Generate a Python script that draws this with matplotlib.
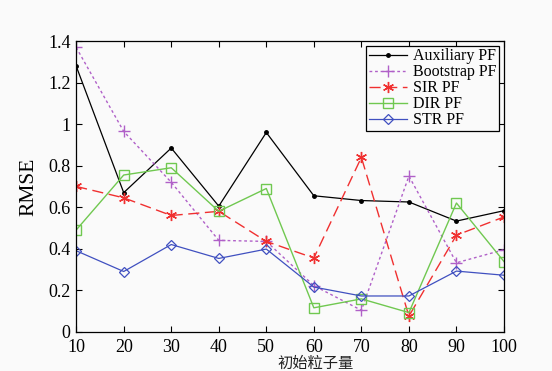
import matplotlib
matplotlib.use("Agg")
import matplotlib.pyplot as plt

# ---------- data ----------
particles = [10, 20, 30, 40, 50, 60, 70, 80, 90, 100]
auxiliary = [1.28, 0.67, 0.885, 0.605, 0.96, 0.655, 0.632, 0.625, 0.533, 0.583]
bootstrap = [1.37, 0.965, 0.72, 0.44, 0.435, 0.222, 0.103, 0.75, 0.332, 0.395]
sir = [0.70, 0.645, 0.56, 0.58, 0.435, 0.355, 0.84, 0.075, 0.465, 0.553]
dir_pf = [0.49, 0.755, 0.79, 0.58, 0.69, 0.115, 0.158, 0.092, 0.62, 0.338]
str_pf = [0.39, 0.29, 0.42, 0.353, 0.398, 0.215, 0.172, 0.172, 0.292, 0.272]

labels = ["Auxiliary PF", "Bootstrap PF", "SIR PF", "DIR PF", "STR PF"]
yticks = [0, 0.2, 0.4, 0.6, 0.8, 1, 1.2, 1.4]
ytick_labels = ["0", "0.2", "0.4", "0.6", "0.8", "1", "1.2", "1.4"]

serif = "Liberation Serif"
bg = "#fafafa"

fig = plt.figure(figsize=(5.52, 3.71), dpi=100, facecolor=bg)
ax = fig.add_axes([0.138, 0.106, 0.775, 0.783])
ax.set_facecolor(bg)

ax.plot(particles, auxiliary, color="black", lw=0.9, marker=".", ms=5, label=labels[0])
ax.plot(particles, bootstrap, color="#b060c8", lw=1.0, ls=(0, (2, 2)), marker="+", ms=8,
        mew=1.0, label=labels[1])
ax.plot(particles, sir, color="#f03030", lw=1.0, ls=(0, (8, 4)), marker=(6, 2, 0), ms=8,
        mew=1.0, label=labels[2])
ax.plot(particles, dir_pf, color="#70c850", lw=1.0, marker="s", ms=7, mfc="none",
        mew=1.0, label=labels[3])
ax.plot(particles, str_pf, color="#4050c0", lw=0.9, marker="D", ms=5.5, mfc="none",
        mew=0.9, label=labels[4])

ax.set_xlim(10, 100)
ax.set_ylim(0, 1.4)
ax.set_xticks(particles)
ax.set_yticks(yticks)
ax.set_yticklabels(ytick_labels)
ax.tick_params(direction="in", length=4, top=True, right=True, width=0.8)
ax.tick_params(axis="x", pad=5)
ax.tick_params(axis="y", pad=4)
for lab in ax.get_xticklabels() + ax.get_yticklabels():
    lab.set_fontfamily(serif)
    lab.set_fontsize(13)
for s in ax.spines.values():
    s.set_linewidth(0.9)

ax.set_ylabel("RMSE", fontfamily=serif, fontsize=15.5, labelpad=7)
fig.text(316 / 552, 1 - 355 / 371, "初始粒子量", ha="center", va="top",
         fontfamily=["Noto Sans CJK SC", "DejaVu Sans"], fontsize=11, color="#222222")

leg = ax.legend(loc="upper right", prop={"family": serif, "size": 11.5}, fancybox=False,
                edgecolor="black", framealpha=1, borderpad=0.15, labelspacing=0.0,
                handlelength=2.4, handletextpad=0.4, borderaxespad=0.3)
leg.get_frame().set_linewidth(0.9)
leg.get_frame().set_facecolor(bg)

fig.savefig("out.png", dpi=100, facecolor=fig.get_facecolor())
